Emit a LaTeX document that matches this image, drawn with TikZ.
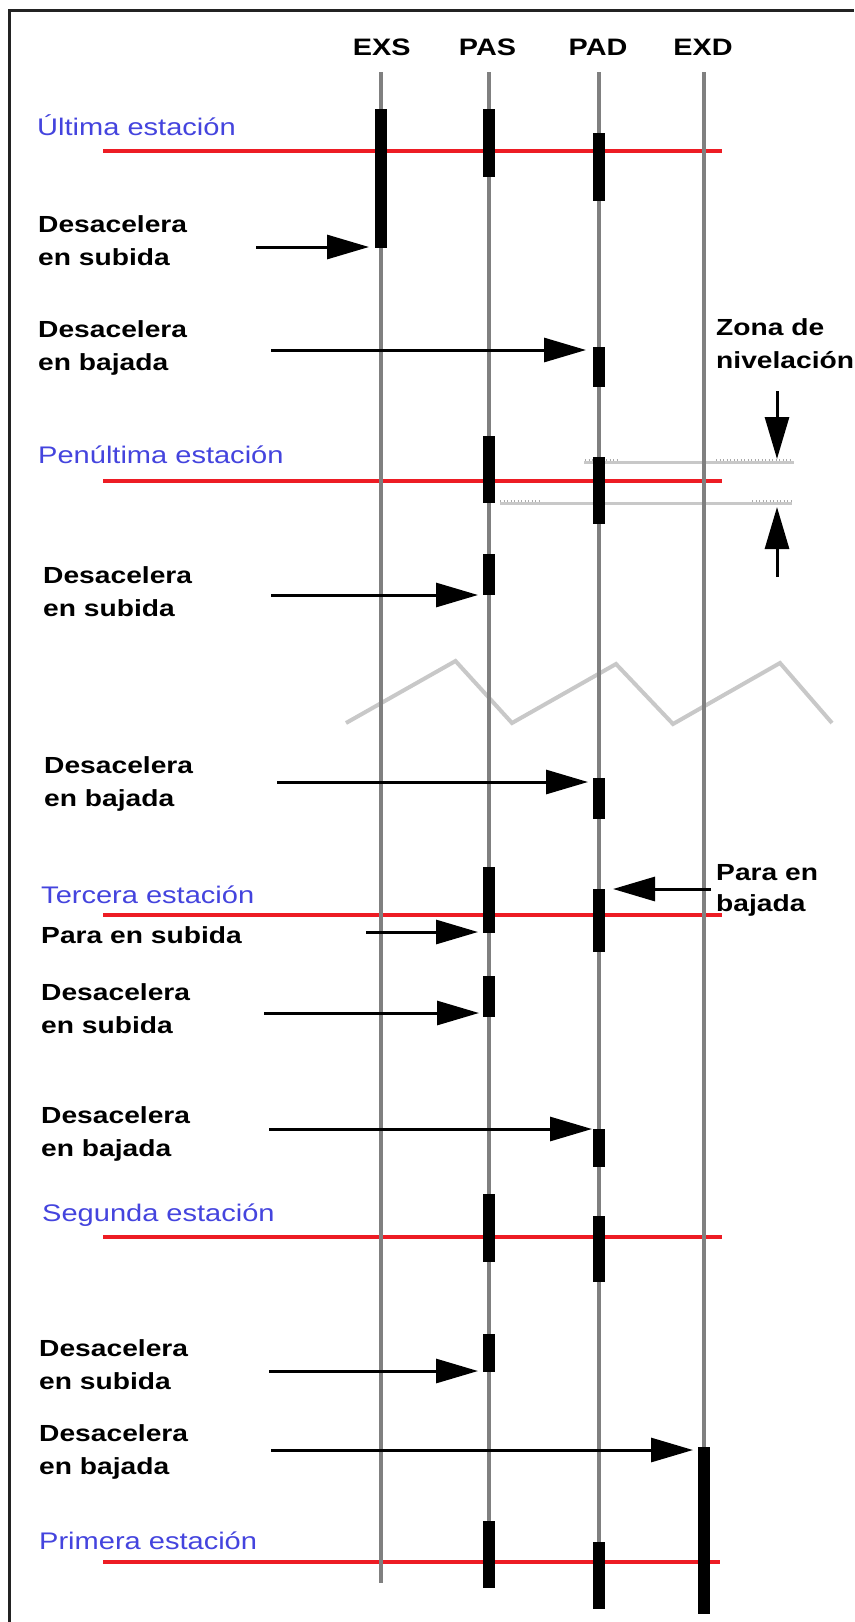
\documentclass[tikz,border=0pt]{standalone}
\usepackage{fontspec}
\newfontfamily\labfont{Liberation Sans}[FakeStretch=1.21]
\usetikzlibrary{arrows.meta}
\definecolor{stred}{RGB}{237,28,36}
\definecolor{stblue}{RGB}{68,68,222}
\definecolor{vgray}{RGB}{128,128,128}
\definecolor{lgray}{RGB}{200,200,200}
\definecolor{hgray}{RGB}{170,170,170}
\definecolor{framec}{RGB}{35,35,35}
\newcommand\twol[2]{\begin{tabular}[t]{@{}l@{}}#1\\#2\end{tabular}}
\newcommand\tbar[4]{\node[barnode, minimum height={(#4-#3)*1pt}] (#1) at (#2,{(#3+#4)/2}) {};}
\begin{document}
\begin{tikzpicture}[x=1pt,y=-1pt,
  lab/.style={anchor=base west, inner sep=0pt, font=\labfont\bfseries\fontsize{23.3}{33.5}\selectfont, text=black},
  station/.style={anchor=base west, inner sep=0pt, font=\labfont\fontsize{24}{28}\selectfont, text=stblue},
  head/.style={anchor=base, inner sep=0pt, font=\labfont\bfseries\fontsize{23.8}{28}\selectfont, text=black},
  axis/.style={draw=vgray, line width=4pt},
  level/.style={draw=stred, line width=4.5pt},
  barnode/.style={rectangle, fill=black, minimum width=12pt, inner sep=0pt, outer sep=0pt},
  arr/.style={draw=black, line width=3pt, -{Triangle[length=42pt,width=24pt]}},
  zone/.style={draw=lgray, line width=2.5pt},
  hatch/.style={draw=hgray, line width=2.5pt, dash pattern=on 1.2pt off 2.3pt},
  zig/.style={draw=lgray, line width=4pt, line join=miter}
]
\fill[white] (0,0) rectangle (854,1622);
\useasboundingbox (0,0) rectangle (854,1622);
% frame
\draw[framec, line width=3pt] (9,1622) -- (9,10) -- (854,10);

% zigzag break
\draw[zig] (346,723) -- (455.5,661) -- (512,723) -- (616,664) -- (673,724) -- (780,663) -- (832,723);

% station levels
\coordinate (r1a) at (103,151);  \coordinate (r1b) at (722,151);
\coordinate (r2a) at (103,481);  \coordinate (r2b) at (722,481);
\coordinate (r3a) at (103,915);  \coordinate (r3b) at (722,915);
\coordinate (r4a) at (103,1237); \coordinate (r4b) at (722,1237);
\coordinate (r5a) at (103,1562); \coordinate (r5b) at (720,1562);
\draw[level] (r1a) -- (r1b);
\draw[level] (r2a) -- (r2b);
\draw[level] (r3a) -- (r3b);
\draw[level] (r4a) -- (r4b);
\draw[level] (r5a) -- (r5b);

% leveling zone lines
\coordinate (zua) at (584,462.5); \coordinate (zub) at (794,462.5);
\coordinate (zla) at (500,503.5); \coordinate (zlb) at (792,503.5);
\draw[zone] (zua) -- (zub);
\draw[zone] (zla) -- (zlb);
\draw[hatch] (585,460) -- (618,460);
\draw[hatch] (716,460) -- (792,460);
\draw[hatch] (500,501) -- (539,501);
\draw[hatch] (752,501) -- (791,501);

% axes
\coordinate (exsT) at (381,72); \coordinate (exsB) at (381,1583);
\coordinate (pasT) at (489,72); \coordinate (pasB) at (489,1586);
\coordinate (padT) at (599,72); \coordinate (padB) at (599,1607);
\coordinate (exdT) at (704,72); \coordinate (exdB) at (704,1612);
\draw[axis] (exsT) -- (exsB);
\draw[axis] (pasT) -- (pasB);
\draw[axis] (padT) -- (padB);
\draw[axis] (exdT) -- (exdB);

% headers
\node[head] (hEXS) at (381.7,55) {EXS};
\node[head] (hPAS) at (487.5,55) {PAS};
\node[head] (hPAD) at (598,55) {PAD};
\node[head] (hEXD) at (703,55) {EXD};

% bars
\tbar{bEXS}{381}{109}{248}
\tbar{bPAS1}{489}{109}{177}
\tbar{bPAD1}{599}{133}{201}
\tbar{bPADd1}{599}{347}{387}
\tbar{bPAS2}{489}{436}{503}
\tbar{bPAD2}{599}{457}{524}
\tbar{bPASd2}{489}{554}{595}
\tbar{bPADd3}{599}{778}{819}
\tbar{bPAS3}{489}{867}{933}
\tbar{bPAD3}{599}{889}{952}
\tbar{bPASd4}{489}{976}{1017}
\tbar{bPADd5}{599}{1129}{1167}
\tbar{bPAS4}{489}{1194}{1262}
\tbar{bPAD4}{599}{1216}{1282}
\tbar{bPASd6}{489}{1334}{1372}
\tbar{bEXD}{704}{1447}{1614}
\tbar{bPAS5}{489}{1521}{1588}
\tbar{bPAD5}{599}{1542}{1609}

% arrows
\coordinate (a1s) at (256,247);  \coordinate (a1e) at (369,247);
\coordinate (a2s) at (271,350);  \coordinate (a2e) at (586,350);
\coordinate (a3s) at (271,595);  \coordinate (a3e) at (478,595);
\coordinate (a4s) at (277,782);  \coordinate (a4e) at (588,782);
\coordinate (a5s) at (366,932);  \coordinate (a5e) at (478,932);
\coordinate (a6s) at (711,889);  \coordinate (a6e) at (613,889);
\coordinate (a7s) at (264,1013); \coordinate (a7e) at (479,1013);
\coordinate (a8s) at (269,1129); \coordinate (a8e) at (592,1129);
\coordinate (a9s) at (269,1371); \coordinate (a9e) at (478,1371);
\coordinate (a10s) at (271,1450); \coordinate (a10e) at (693,1450);
\coordinate (z1s) at (777,391);  \coordinate (z1e) at (777,459);
\coordinate (z2s) at (777,577);  \coordinate (z2e) at (777,507);
\draw[arr] (a1s) -- (a1e);
\draw[arr] (a2s) -- (a2e);
\draw[arr] (a3s) -- (a3e);
\draw[arr] (a4s) -- (a4e);
\draw[arr] (a5s) -- (a5e);
\draw[arr] (a6s) -- (a6e);
\draw[arr] (a7s) -- (a7e);
\draw[arr] (a8s) -- (a8e);
\draw[arr] (a9s) -- (a9e);
\draw[arr] (a10s) -- (a10e);
\draw[arr] (z1s) -- (z1e);
\draw[arr] (z2s) -- (z2e);

% station labels
\node[station] (s1) at (37,135) {Última estación};
\node[station] (s2) at (38,463) {Penúltima estación};
\node[station] (s3) at (41,903) {Tercera estación};
\node[station] (s4) at (42,1221) {Segunda estación};
\node[station] (s5) at (39,1549) {Primera estación};

% event labels
\node[lab] (l1) at (38,232) {\twol{Desacelera}{en subida}};
\node[lab] (l2) at (38,337) {\twol{Desacelera}{en bajada}};
\node[lab] (l3) at (43,583) {\twol{Desacelera}{en subida}};
\node[lab] (l4) at (44,773) {\twol{Desacelera}{en bajada}};
\node[lab] (l5) at (41,943) {Para en subida};
\node[lab, font=\labfont\bfseries\fontsize{23.3}{31}\selectfont] (l6) at (716,880) {\twol{Para en}{bajada}};
\node[lab] (l7) at (41,1000) {\twol{Desacelera}{en subida}};
\node[lab] (l8) at (41,1123) {\twol{Desacelera}{en bajada}};
\node[lab] (l9) at (39,1356) {\twol{Desacelera}{en subida}};
\node[lab] (l10) at (39,1441) {\twol{Desacelera}{en bajada}};
\node[lab] (lz) at (716,335) {\twol{Zona de}{nivelación}};
\end{tikzpicture}
\end{document}
